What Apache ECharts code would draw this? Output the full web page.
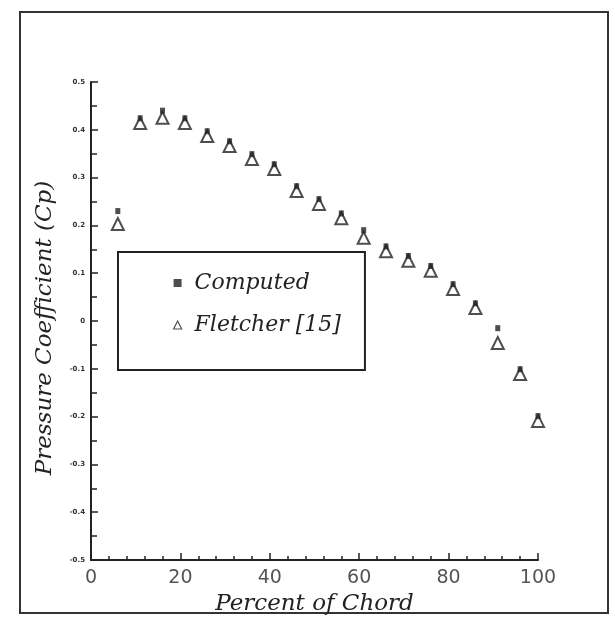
<!DOCTYPE html>
<html>
<head>
<meta charset="utf-8">
<script src="https://cdn.jsdelivr.net/npm/echarts@6/dist/echarts.min.js"></script>
<style>html,body{margin:0;padding:0;background:#fff}#c{width:615px;height:627px}</style>
</head>
<body>
<div id="c"></div>
<script>
const chordPercent = [6, 11, 16, 21, 26, 31, 36, 41, 46, 51, 56, 61, 66, 71, 76, 81, 86, 91, 96, 100];
const fletcherCp = [0.203, 0.414, 0.425, 0.414, 0.387, 0.366, 0.339, 0.318, 0.272, 0.245, 0.215, 0.174, 0.146, 0.126, 0.105, 0.067, 0.027, -0.046, -0.111, -0.209];
const computedCp = [0.23, 0.424, 0.44, 0.424, 0.397, 0.376, 0.349, 0.328, 0.282, 0.255, 0.225, 0.19, 0.156, 0.136, 0.115, 0.077, 0.037, -0.015, -0.101, -0.199];
const seriesNames = ['Computed', 'Fletcher [15]'];
const xTitle = 'Percent of Chord';
const yTitle = 'Pressure Coefficient (Cp)';

const chart = echarts.init(document.getElementById('c'));
const serif = '"DejaVu Serif", "Liberation Serif", serif';
chart.setOption({
  animation: false,
  backgroundColor: '#fff',
  graphic: [{
    type: 'rect', shape: {x: 20, y: 12, width: 588, height: 601},
    style: {fill: 'none', stroke: '#333', lineWidth: 2}, z: -1
  }],
  grid: {left: 91, right: 77, top: 82, bottom: 67},
  legend: {
    left: 118, top: 252, orient: 'vertical',
    borderColor: '#222', borderWidth: 2, padding: [20, 24, 34, 55],
    itemGap: 20, itemWidth: 8, itemHeight: 8,
    textStyle: {fontFamily: serif, fontStyle: 'italic', fontSize: 22, color: '#222', padding: [0, 0, 0, 8]},
    data: [
      {name: seriesNames[0], icon: 'rect', itemStyle: {color: '#222'}},
      {name: seriesNames[1], icon: 'triangle', itemStyle: {color: '#fff', borderColor: '#222', borderWidth: 1.2}}
    ]
  },
  xAxis: {
    type: 'value', min: 0, max: 100, interval: 20,
    name: xTitle, nameLocation: 'middle', nameGap: 30,
    nameTextStyle: {fontFamily: serif, fontStyle: 'italic', fontSize: 23, color: '#222'},
    axisLine: {onZero: false, lineStyle: {color: '#222', width: 2}},
    axisTick: {inside: true, length: 7, lineStyle: {color: '#222', width: 1.5}},
    minorTick: {show: true, splitNumber: 5, length: 4, lineStyle: {color: '#222', width: 1.5}},
    axisLabel: {fontFamily: '"DejaVu Sans", sans-serif', fontSize: 19, color: '#555', margin: 9},
    splitLine: {show: false}
  },
  yAxis: {
    type: 'value', min: -0.5, max: 0.5, interval: 0.1,
    name: yTitle, nameLocation: 'middle', nameGap: 34, nameRotate: 90,
    nameTextStyle: {fontFamily: serif, fontStyle: 'italic', fontSize: 23, color: '#222', padding: [0, 14, 0, 0]},
    axisLine: {onZero: false, lineStyle: {color: '#222', width: 2}},
    axisTick: {inside: true, length: 7, lineStyle: {color: '#222', width: 1.5}},
    minorTick: {show: true, splitNumber: 2, length: 6, lineStyle: {color: '#222', width: 1.5}},
    axisLabel: {fontFamily: '"DejaVu Sans", sans-serif', fontSize: 7, fontWeight: 'bold', color: '#333', margin: 6,
      formatter: v => (Math.abs(v) < 1e-9 ? '0' : (Math.round(v * 10) / 10).toString())},
    splitLine: {show: false}
  },
  series: [
    {
      name: seriesNames[1], type: 'scatter', symbol: 'triangle', symbolSize: [12, 12],
      itemStyle: {color: '#fff', borderColor: '#222', borderWidth: 2},
      data: chordPercent.map((x, i) => [x, fletcherCp[i]]), z: 2
    },
    {
      name: seriesNames[0], type: 'scatter', symbol: 'rect', symbolSize: [5, 6],
      itemStyle: {color: '#222'},
      data: chordPercent.map((x, i) => [x, computedCp[i]]), z: 3
    }
  ]
});
</script>
</body>
</html>
